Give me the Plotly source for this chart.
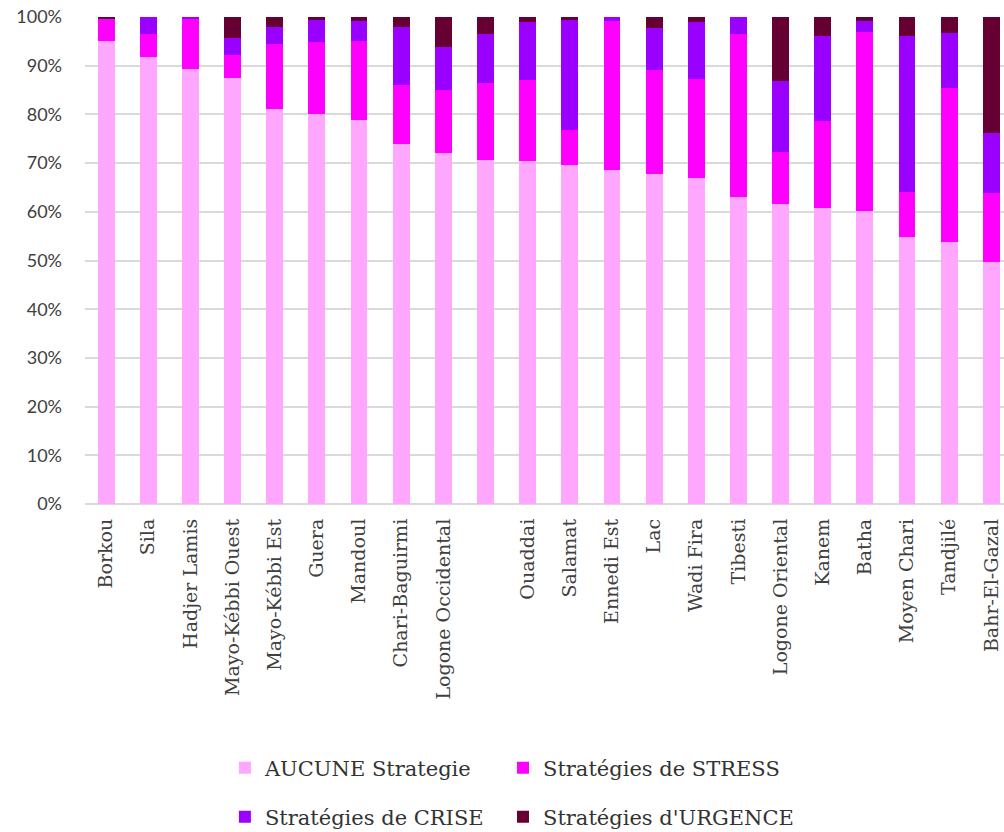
import plotly.graph_objects as go

# Coping-strategy shares by region (percent of households)
regions = [
    "Borkou", "Sila", "Hadjer Lamis", "Mayo-Kébbi Ouest", "Mayo-Kébbi Est",
    "Guera", "Mandoul", "Chari-Baguirmi", "Logone Occidental", "",
    "Ouaddai", "Salamat", "Ennedi Est", "Lac", "Wadi Fira", "Tibesti",
    "Logone Oriental", "Kanem", "Batha", "Moyen Chari", "Tandjilé", "Bahr-El-Gazal",
]

aucune = [95.1, 91.7, 89.4, 87.5, 81.2, 80.1, 78.9, 73.9, 72.0, 70.7,
          70.4, 69.7, 68.6, 67.8, 67.0, 63.0, 61.7, 60.7, 60.2, 54.9, 53.9, 49.7]
stress = [4.6, 4.8, 10.3, 4.8, 13.3, 14.8, 16.2, 12.1, 13.1, 15.7,
          16.6, 7.1, 30.6, 21.3, 20.3, 33.5, 10.6, 17.9, 36.8, 9.2, 31.5, 14.2]
crise = [0.0, 3.5, 0.3, 3.4, 3.5, 4.5, 4.0, 12.0, 8.7, 10.1,
         11.9, 22.6, 0.8, 8.7, 11.7, 3.5, 14.5, 17.4, 2.1, 31.9, 11.4, 12.3]
urgence = [0.3, 0.0, 0.0, 4.3, 2.0, 0.6, 0.9, 2.0, 6.2, 3.5,
           1.1, 0.6, 0.0, 2.2, 1.0, 0.0, 13.2, 4.0, 0.9, 4.0, 3.2, 23.8]

# name, values, colour, legend slot (2 x 2 grid below the chart)
series = [
    ("AUCUNE Strategie", aucune, "#FFA6FF", "legend", 0.224, 0.0769),
    ("Stratégies de STRESS", stress, "#FF00FF", "legend2", 0.501, 0.0769),
    ("Stratégies de CRISE", crise, "#9900FF", "legend3", 0.224, 0.018),
    ("Stratégies d'URGENCE", urgence, "#660033", "legend4", 0.501, 0.018),
]

positions = list(range(len(regions)))
serif = "DejaVu Serif"

fig = go.Figure()
legends = {}
for name, vals, color, leg, lx, ly in series:
    fig.add_trace(go.Bar(
        x=positions, y=vals, name=name, legend=leg,
        marker=dict(color=color, line=dict(width=0)),
        width=0.4,
    ))
    legends[leg] = dict(
        xref="container", yref="container", x=lx, y=ly,
        xanchor="left", yanchor="middle", orientation="h",
        font=dict(family=serif, size=21, color="#333333"),
        itemwidth=30, bgcolor="rgba(0,0,0,0)",
    )

fig.update_layout(
    width=1004, height=832,
    margin=dict(l=85, r=0, t=17, b=328),
    barmode="stack",
    bargap=0.6,
    plot_bgcolor="white", paper_bgcolor="white",
    showlegend=True,
    **legends,
    xaxis=dict(
        tickmode="array", tickvals=positions, ticktext=regions,
        tickangle=-90, range=[-0.5, 21.3], automargin=False,
        tickfont=dict(family=serif, size=19, color="#404040"),
        showgrid=False, showline=False, zeroline=False,
        ticks="", ticklabelstandoff=10,
    ),
    yaxis=dict(
        range=[0, 100], dtick=10, ticksuffix="%", automargin=False,
        tickfont=dict(family="Lato", size=18, color="#404040"),
        showgrid=True, gridcolor="#d9d9d9", gridwidth=1.5,
        zeroline=True, zerolinecolor="#d9d9d9", zerolinewidth=1.5,
        showline=False, ticks="", ticklabelstandoff=22,
    ),
)

fig.write_html("out.html")
